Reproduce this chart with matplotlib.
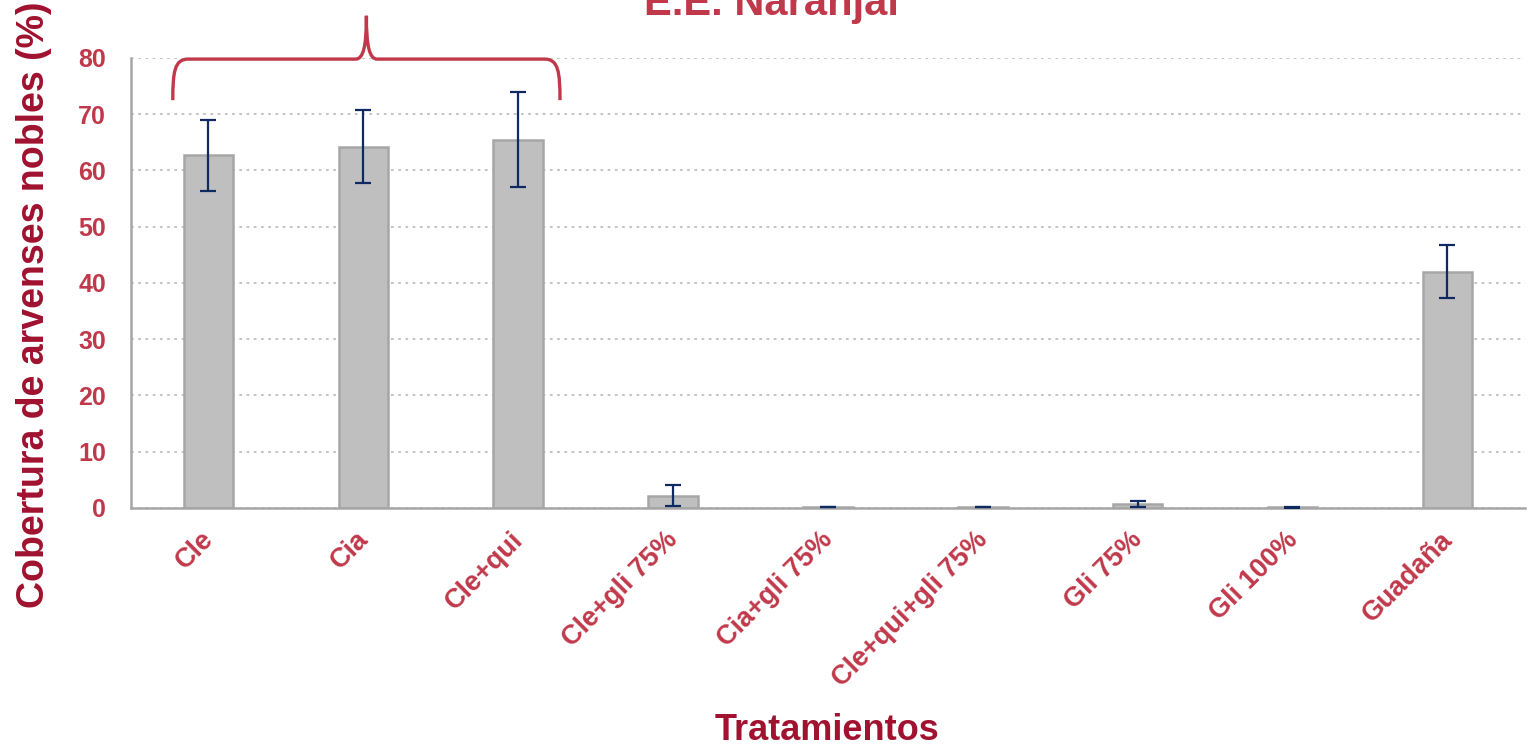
import matplotlib
matplotlib.use('Agg')
import matplotlib.pyplot as plt
from matplotlib.path import Path
from matplotlib.patches import PathPatch
from matplotlib.transforms import ScaledTranslation
import numpy as np

plt.rcParams['font.family'] = ['Liberation Sans', 'DejaVu Sans']
plt.rcParams['font.weight'] = 'bold'

RED = '#C0394B'
DARK_RED = '#A0122F'
NAVY = '#0F2A60'

tratamientos = ["Cle", "Cia", "Cle+qui", "Cle+gli 75%", "Cia+gli 75%",
                "Cle+qui+gli 75%", "Gli 75%", "Gli 100%", "Guadaña"]
cobertura = [62.7, 64.2, 65.5, 2.2, 0.1, 0.1, 0.7, 0.1, 42.0]
error = [6.3, 6.5, 8.4, 1.9, 0.0, 0.0, 0.5, 0.05, 4.7]

fig = plt.figure(figsize=(15.34, 7.48), dpi=100)
ax = fig.add_axes([0.0854, 0.3209, 0.9086, 0.6016])

x = np.arange(len(tratamientos))
ax.bar(x, cobertura, width=0.32, color='#BFBFBF', edgecolor='#A6A6A6',
       linewidth=1.8, zorder=2)
ax.errorbar(x, cobertura, yerr=error, fmt='none', ecolor=NAVY,
            elinewidth=1.6, capsize=6, capthick=1.6, zorder=3)

ax.set_xlim(-0.5, len(tratamientos) - 0.5)
ax.set_ylim(0, 80)
ax.set_yticks(np.arange(0, 81, 10))
ax.yaxis.grid(True, linestyle=(0, (1.5, 2.5)), color='#BFBFBF', linewidth=1.3, zorder=0)
ax.set_axisbelow(True)

for s in ['top', 'right']:
    ax.spines[s].set_visible(False)
for s in ['left', 'bottom']:
    ax.spines[s].set_color('#A6A6A6')
    ax.spines[s].set_linewidth(1.8)

ax.tick_params(axis='both', length=0, colors=RED, labelsize=18)
ax.tick_params(axis='y', pad=18)
ax.set_xticks(x)
ax.set_xticklabels(tratamientos, rotation=45, ha='right', va='top',
                   rotation_mode='anchor', fontsize=19.5, color=RED)
ax.tick_params(axis='x', pad=12)
shift = ScaledTranslation(-8 / 100, -2 / 100, fig.dpi_scale_trans)
for lab in ax.get_xticklabels():
    lab.set_transform(lab.get_transform() + shift)

# brace over first three treatments
x0, x1, xm = -0.23, 2.27, 1.02
yb, yf, yt = 72.5, 79.8, 87.5
verts = [(x0, yb), (x0, 77.5), (x0 + 0.01, yf), (x0 + 0.1, yf),
         (xm - 0.07, yf),
         (xm - 0.02, yf), (xm, 82.0), (xm, yt),
         (xm, 82.0), (xm + 0.02, yf), (xm + 0.07, yf),
         (x1 - 0.1, yf),
         (x1 - 0.01, yf), (x1, 77.5), (x1, yb)]
codes = [Path.MOVETO, Path.CURVE4, Path.CURVE4, Path.CURVE4,
         Path.LINETO,
         Path.CURVE4, Path.CURVE4, Path.CURVE4,
         Path.CURVE4, Path.CURVE4, Path.CURVE4,
         Path.LINETO,
         Path.CURVE4, Path.CURVE4, Path.CURVE4]
ax.add_patch(PathPatch(Path(verts, codes), fill=False, edgecolor=RED,
                       linewidth=2.4, clip_on=False, zorder=4))

fig.text(0.503, 0.98, "E.E. Naranjal", ha='center', va='baseline',
         fontsize=30, color=RED, fontweight='bold')
fig.text(0.022, 0.592, "Cobertura de arvenses nobles (%)", rotation=90,
         ha='center', va='center', fontsize=27, color=DARK_RED, fontweight='bold')
fig.text(0.539, 0.011, "Tratamientos", ha='center', va='baseline',
         fontsize=26, color=DARK_RED, fontweight='bold')

fig.savefig('out.png', dpi=100)
